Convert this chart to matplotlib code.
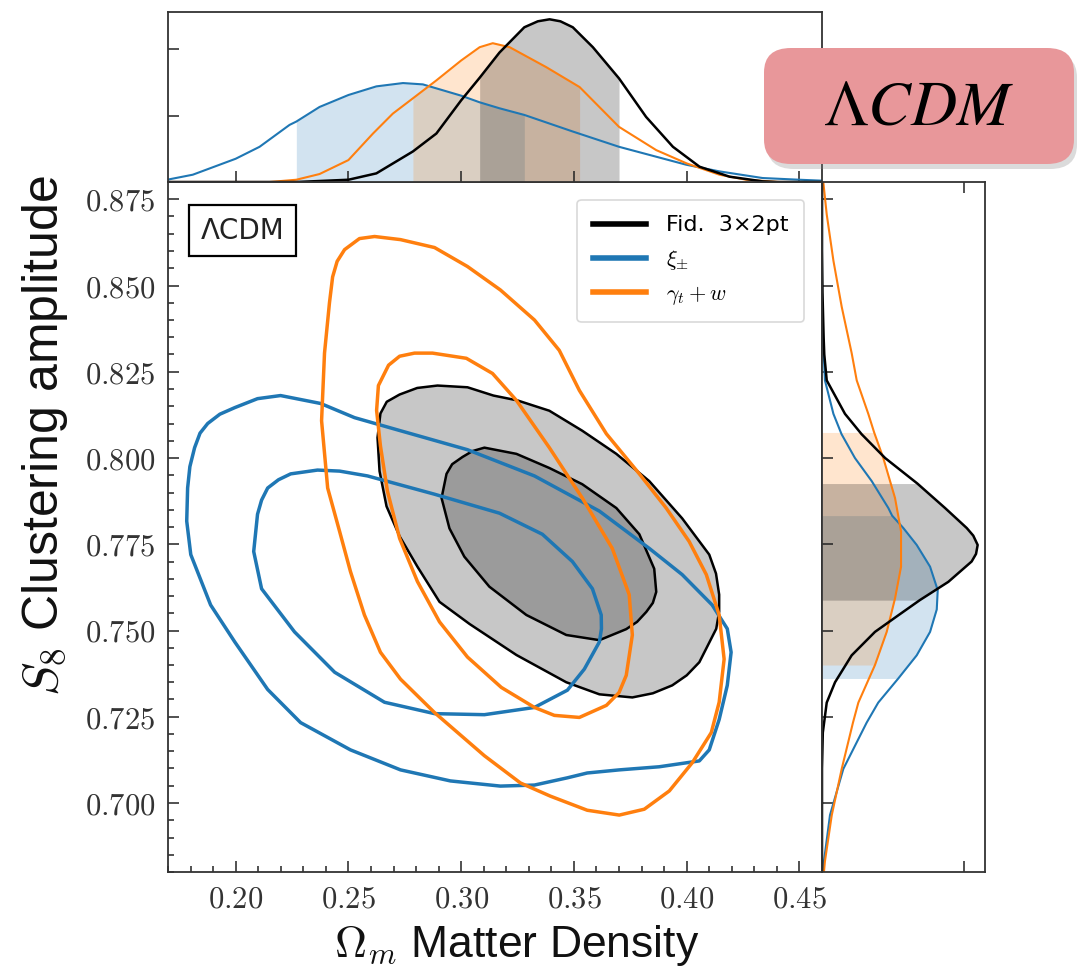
import numpy as np
import matplotlib
matplotlib.use('Agg')
import matplotlib.pyplot as plt
from matplotlib.lines import Line2D
from matplotlib.patches import FancyBboxPatch
from matplotlib.ticker import MultipleLocator, FixedLocator, FuncFormatter, NullFormatter

plt.rcParams['mathtext.fontset'] = 'cm'

BLUE = '#1f77b4'
ORANGE = '#ff7f0e'

# ---- 2D contours: (Omega_m, S8) ----
fid_outer_om = [0.2805, 0.2895, 0.3028, 0.3143, 0.3249, 0.3391, 0.3537, 0.3688, 0.3834, 0.3980,
                0.4100, 0.4130, 0.4144, 0.4144, 0.4131, 0.4056, 0.4000, 0.3936, 0.3850, 0.3759,
                0.3613, 0.3466, 0.3245, 0.3037, 0.2904, 0.2806, 0.2727, 0.2669, 0.2638, 0.2629,
                0.2642, 0.2670, 0.2727]
fid_outer_s8 = [0.8203, 0.8210, 0.8205, 0.8181, 0.8167, 0.8137, 0.8079, 0.8012, 0.7933, 0.7825,
                0.7720, 0.7665, 0.7604, 0.7555, 0.7505, 0.7408, 0.7370, 0.7341, 0.7318, 0.7306,
                0.7315, 0.7350, 0.7429, 0.7519, 0.7583, 0.7685, 0.7773, 0.7860, 0.7962, 0.8059,
                0.8129, 0.8163, 0.8184]
fid_inner_om = [0.3103, 0.3245, 0.3391, 0.3537, 0.3688, 0.3790, 0.3856, 0.3865, 0.3850, 0.3821,
                0.3780, 0.3732, 0.3613, 0.3466, 0.3289, 0.3125, 0.3014, 0.2948, 0.2913, 0.2935,
                0.2960, 0.3006, 0.3050]
fid_inner_s8 = [0.8030, 0.8012, 0.7971, 0.7924, 0.7855, 0.7779, 0.7679, 0.7612, 0.7580, 0.7554,
                0.7525, 0.7504, 0.7472, 0.7487, 0.7545, 0.7627, 0.7714, 0.7796, 0.7884, 0.7954,
                0.7982, 0.8003, 0.8020]

xi_outer_om = [0.2199, 0.2377, 0.2527, 0.2731, 0.3028, 0.3325, 0.3613, 0.3834, 0.3980, 0.4113,
               0.4180, 0.4197, 0.4180, 0.4144, 0.4100, 0.4056, 0.3878, 0.3701, 0.3559, 0.3471,
               0.3325, 0.3174, 0.2952, 0.2731, 0.2509, 0.2288, 0.2142, 0.1996, 0.1889, 0.1801,
               0.1783, 0.1787, 0.1797, 0.1818, 0.1842, 0.1876, 0.1930, 0.1996, 0.2097]
xi_outer_s8 = [0.8181, 0.8158, 0.8117, 0.8079, 0.8024, 0.7948, 0.7846, 0.7738, 0.7662, 0.7574,
               0.7505, 0.7437, 0.7341, 0.7242, 0.7154, 0.7122, 0.7105, 0.7096, 0.7087, 0.7073,
               0.7052, 0.7049, 0.7064, 0.7096, 0.7154, 0.7233, 0.7329, 0.7467, 0.7574, 0.7720,
               0.7817, 0.7913, 0.7975, 0.8030, 0.8072, 0.8100, 0.8127, 0.8146, 0.8172]
xi_inner_om = [0.2363, 0.2244, 0.2190, 0.2142, 0.2115, 0.2097, 0.2080, 0.2115, 0.2261, 0.2439,
               0.2660, 0.2882, 0.3103, 0.3325, 0.3471, 0.3546, 0.3613, 0.3622, 0.3621, 0.3582,
               0.3493, 0.3360, 0.3170, 0.2882, 0.2585, 0.2461]
xi_inner_s8 = [0.7965, 0.7954, 0.7937, 0.7913, 0.7878, 0.7837, 0.7729, 0.7621, 0.7496, 0.7379,
               0.7292, 0.7259, 0.7256, 0.7277, 0.7327, 0.7388, 0.7467, 0.7505, 0.7545, 0.7621,
               0.7700, 0.7779, 0.7840, 0.7895, 0.7948, 0.7962]

gw_outer_om = [0.2616, 0.2731, 0.2882, 0.3028, 0.3174, 0.3325, 0.3435, 0.3524, 0.3644, 0.3790,
               0.3909, 0.4011, 0.4087, 0.4144, 0.4166, 0.4144, 0.4109, 0.4025, 0.3923, 0.3812,
               0.3701, 0.3559, 0.3395, 0.3263, 0.3103, 0.2882, 0.2731, 0.2642, 0.2571, 0.2509,
               0.2461, 0.2408, 0.2381, 0.2394, 0.2416, 0.2430, 0.2450, 0.2483, 0.2549]
gw_outer_s8 = [0.8642, 0.8633, 0.8610, 0.8555, 0.8487, 0.8400, 0.8312, 0.8196, 0.8070, 0.7954,
               0.7855, 0.7758, 0.7662, 0.7545, 0.7417, 0.7292, 0.7204, 0.7117, 0.7035, 0.6982,
               0.6965, 0.6979, 0.7020, 0.7058, 0.7137, 0.7262, 0.7359, 0.7437, 0.7545, 0.7671,
               0.7787, 0.7913, 0.8108, 0.8304, 0.8450, 0.8525, 0.8570, 0.8604, 0.8636]
gw_inner_om = [0.2793, 0.2873, 0.3023, 0.3139, 0.3245, 0.3391, 0.3537, 0.3670, 0.3745, 0.3759,
               0.3732, 0.3700, 0.3644, 0.3524, 0.3413, 0.3325, 0.3178, 0.3028, 0.2904, 0.2806,
               0.2727, 0.2673, 0.2642, 0.2625, 0.2633, 0.2678, 0.2727]
gw_inner_s8 = [0.8304, 0.8304, 0.8289, 0.8245, 0.8167, 0.8030, 0.7884, 0.7738, 0.7604, 0.7487,
               0.7370, 0.7320, 0.7283, 0.7248, 0.7254, 0.7277, 0.7335, 0.7423, 0.7525, 0.7642,
               0.7767, 0.7904, 0.8035, 0.8138, 0.8210, 0.8269, 0.8295]

# ---- 1D marginal of Omega_m (top panel) ----
fid_om_x = [0.170, 0.227, 0.250, 0.2624, 0.2786, 0.289, 0.300, 0.3082, 0.317, 0.328, 0.334,
            0.3392, 0.344, 0.3495, 0.3584, 0.370, 0.382, 0.3939, 0.4057, 0.419, 0.4336, 0.440,
            0.460]
fid_om_p = [0.0, 0.0, 0.034, 0.13, 0.46, 0.73, 1.23, 1.57, 1.95, 2.33, 2.42,
            2.45, 2.42, 2.33, 2.03, 1.56, 0.98, 0.53, 0.23, 0.08, 0.01, 0.0,
            0.0]
xi_om_x = [0.1696, 0.181, 0.200, 0.2106, 0.2239, 0.2269, 0.2372, 0.250, 0.2624, 0.2742, 0.283,
           0.300, 0.3082, 0.317, 0.328, 0.3495, 0.370, 0.3998, 0.4145, 0.4336, 0.450, 0.460]
xi_om_p = [0.034, 0.11, 0.35, 0.53, 0.86, 0.91, 1.13, 1.31, 1.44, 1.49, 1.47,
           1.30, 1.20, 1.11, 1.01, 0.76, 0.53, 0.26, 0.16, 0.06, 0.034, 0.02]
gw_om_x = [0.170, 0.215, 0.2269, 0.2372, 0.250, 0.2609, 0.2697, 0.2786, 0.289, 0.300, 0.3082,
           0.314, 0.3215, 0.3377, 0.3525, 0.370, 0.3865, 0.400, 0.4145, 0.4264, 0.441, 0.460]
gw_om_p = [0.0, 0.0, 0.034, 0.12, 0.33, 0.73, 1.03, 1.26, 1.53, 1.83, 2.03,
           2.09, 2.03, 1.73, 1.43, 0.83, 0.48, 0.28, 0.11, 0.034, 0.0, 0.0]

# ---- 1D marginal of S8 (right panel) ----
fid_s8_y = [0.880, 0.860, 0.848, 0.835, 0.830, 0.8225, 0.8128, 0.8069, 0.800, 0.7926, 0.7855,
            0.7797, 0.7775, 0.7748, 0.7722, 0.7700, 0.7641, 0.7588, 0.7544, 0.7496, 0.7428,
            0.735, 0.7291, 0.7204, 0.710, 0.700, 0.680]
fid_s8_p = [0.0, 0.0, 0.003, 0.010, 0.014, 0.029, 0.141, 0.243, 0.387, 0.585, 0.755,
            0.888, 0.928, 0.955, 0.945, 0.918, 0.775, 0.600, 0.468, 0.325, 0.182,
            0.080, 0.029, 0.005, 0.0, 0.0, 0.0]
xi_s8_y = [0.880, 0.845, 0.833, 0.8225, 0.8128, 0.8069, 0.800, 0.7933, 0.7855, 0.7833, 0.7797,
           0.7748, 0.7685, 0.7617, 0.7561, 0.7496, 0.7428, 0.7361, 0.7291, 0.7233, 0.7099,
           0.6965, 0.6831, 0.680]
xi_s8_p = [0.0, 0.0, 0.008, 0.018, 0.070, 0.120, 0.202, 0.305, 0.407, 0.430, 0.499,
           0.581, 0.663, 0.710, 0.704, 0.663, 0.581, 0.468, 0.345, 0.274, 0.131,
           0.049, 0.012, 0.008]
gw_s8_y = [0.880, 0.8706, 0.8572, 0.8438, 0.8304, 0.8225, 0.8128, 0.8074, 0.800, 0.7884, 0.7787,
           0.7685, 0.7593, 0.7496, 0.740, 0.7291, 0.7233, 0.7099, 0.6965, 0.6831, 0.680]
gw_s8_p = [0.008, 0.029, 0.070, 0.121, 0.182, 0.213, 0.284, 0.320, 0.376, 0.448, 0.485,
           0.485, 0.448, 0.397, 0.325, 0.223, 0.190, 0.121, 0.060, 0.018, 0.012]

# 68% intervals
fid_om_band = (0.3082, 0.370)
xi_om_band = (0.2269, 0.328)
gw_om_band = (0.2786, 0.3525)
fid_s8_band = (0.7588, 0.7926)
xi_s8_band = (0.7361, 0.7833)
gw_s8_band = (0.740, 0.8074)

om_ticks = [0.20, 0.25, 0.30, 0.35, 0.40, 0.45]
s8_ticks = [0.700, 0.725, 0.750, 0.775, 0.800, 0.825, 0.850, 0.875]

fig = plt.figure(figsize=(10.79, 9.77), dpi=100)
W, H = 1079, 977


def px_axes(l, t, r, b):
    return fig.add_axes([l / W, 1 - b / H, (r - l) / W, (b - t) / H])


ax = px_axes(168, 182, 822, 872)
axt = px_axes(168, 12, 822, 182)
axr = px_axes(822, 182, 985, 872)

for a in (ax, axt, axr):
    for s in a.spines.values():
        s.set_color('#333333')
        s.set_linewidth(1.3)
    a.tick_params(which='both', direction='in', color='#222222', width=1.1)
    a.tick_params(which='major', length=8)
    a.tick_params(which='minor', length=4)

# main panel
ax.fill(fid_outer_om, fid_outer_s8, facecolor=(0, 0, 0, 0.22), edgecolor='k', lw=1.8,
        joinstyle='round', zorder=2)
ax.fill(fid_inner_om, fid_inner_s8, facecolor=(0, 0, 0, 0.22), edgecolor='k', lw=1.8,
        joinstyle='round', zorder=2)
for xs, ys, c in [(xi_outer_om, xi_outer_s8, BLUE), (xi_inner_om, xi_inner_s8, BLUE),
                  (gw_outer_om, gw_outer_s8, ORANGE), (gw_inner_om, gw_inner_s8, ORANGE)]:
    ax.fill(xs, ys, facecolor='none', edgecolor=c, lw=2.5, joinstyle='round', zorder=3)

ax.set_xlim(0.17, 0.46)
ax.set_ylim(0.68, 0.88)
ax.xaxis.set_major_locator(FixedLocator(om_ticks))
ax.xaxis.set_minor_locator(MultipleLocator(0.01))
ax.yaxis.set_major_locator(FixedLocator(s8_ticks))
ax.yaxis.set_minor_locator(MultipleLocator(0.005))
ax.xaxis.set_major_formatter(FuncFormatter(lambda v, p: '$%.2f$' % v))
ax.yaxis.set_major_formatter(FuncFormatter(lambda v, p: '$%.3f$' % v))
ax.tick_params(axis='both', which='major', labelsize=22, labelcolor='#333333', pad=9)

ax.text(0.05, 0.95, 'ΛCDM', transform=ax.transAxes, fontsize=20, family='DejaVu Sans',
        ha='left', va='top', color='#222222',
        bbox=dict(boxstyle='square,pad=0.42', fc='white', ec='k', lw=1.6))

handles = [Line2D([], [], color='k', lw=4),
           Line2D([], [], color=BLUE, lw=4),
           Line2D([], [], color=ORANGE, lw=4)]
leg = ax.legend(handles, ['Fid.  3×2pt', r'$\xi_{\pm}$', r'$\gamma_t + w$'],
                loc='upper right', fontsize=16, frameon=True, fancybox=True,
                handlelength=2.4, handletextpad=0.9, labelspacing=0.55,
                borderpad=0.7, borderaxespad=0.8)
leg.get_frame().set_edgecolor('#d0d0d0')
leg.get_frame().set_linewidth(1.2)

# top marginal
for xs, ps, band, c, lw in [(xi_om_x, xi_om_p, xi_om_band, BLUE, 1.5),
                            (gw_om_x, gw_om_p, gw_om_band, ORANGE, 1.5),
                            (fid_om_x, fid_om_p, fid_om_band, 'k', 1.8)]:
    xs = np.array(xs)
    ps = np.array(ps)
    m = (xs >= band[0]) & (xs <= band[1])
    axt.fill_between(xs, 0, ps, where=m, color=c, alpha=0.2 if c != 'k' else 0.22, lw=0)
    axt.plot(xs, ps, color=c, lw=lw, solid_joinstyle='round')
axt.set_xlim(0.17, 0.46)
axt.set_ylim(0, 2.56)
axt.xaxis.set_major_locator(FixedLocator(om_ticks))
axt.yaxis.set_major_locator(FixedLocator([1, 2]))
axt.xaxis.set_major_formatter(NullFormatter())
axt.yaxis.set_major_formatter(NullFormatter())

# right marginal
for ys, ps, band, c, lw in [(xi_s8_y, xi_s8_p, xi_s8_band, BLUE, 1.5),
                            (gw_s8_y, gw_s8_p, gw_s8_band, ORANGE, 1.5),
                            (fid_s8_y, fid_s8_p, fid_s8_band, 'k', 1.8)]:
    ys = np.array(ys)
    ps = np.array(ps)
    m = (ys >= band[0]) & (ys <= band[1])
    axr.fill_betweenx(ys, 0, ps, where=m, color=c, alpha=0.2 if c != 'k' else 0.22, lw=0)
    axr.plot(ps, ys, color=c, lw=lw, solid_joinstyle='round')
axr.set_ylim(0.68, 0.88)
axr.set_xlim(0, 1)
axr.yaxis.set_major_locator(FixedLocator(s8_ticks))
axr.xaxis.set_major_locator(FixedLocator([0.87]))
axr.tick_params(axis='x', which='both', top=True, bottom=True)
axr.xaxis.set_major_formatter(NullFormatter())
axr.yaxis.set_major_formatter(NullFormatter())

# axis labels
fig.text(45 / W, 1 - 436 / H, r'$S_8$ Clustering amplitude', rotation=90, ha='center', va='center',
         fontsize=36, family='Liberation Sans', color='#111111')
fig.text(517 / W, 1 - 946 / H, r'$\Omega_m$ Matter Density', ha='center', va='center',
         fontsize=32, family='Liberation Sans', color='#111111')

# pink badge
bx0, by0, bx1, by1 = 764 / W, 1 - 164 / H, 1074 / W, 1 - 48 / H
shadow = FancyBboxPatch((bx0 + 3 / W, by0 - 5 / H), bx1 - bx0, by1 - by0,
                        boxstyle='round,pad=0,rounding_size=0.025', transform=fig.transFigure,
                        fc='#888888', ec='none', alpha=0.3, zorder=10)
badge = FancyBboxPatch((bx0, by0), bx1 - bx0, by1 - by0,
                       boxstyle='round,pad=0,rounding_size=0.025', transform=fig.transFigure,
                       fc='#e8979a', ec='none', zorder=11)
fig.patches.extend([shadow, badge])
fig.text((bx0 + bx1) / 2, (by0 + by1) / 2, r'$\Lambda CDM$', ha='center', va='center',
         fontsize=46, math_fontfamily='stix', color='k', zorder=12)

fig.savefig('out.png', dpi=100)
